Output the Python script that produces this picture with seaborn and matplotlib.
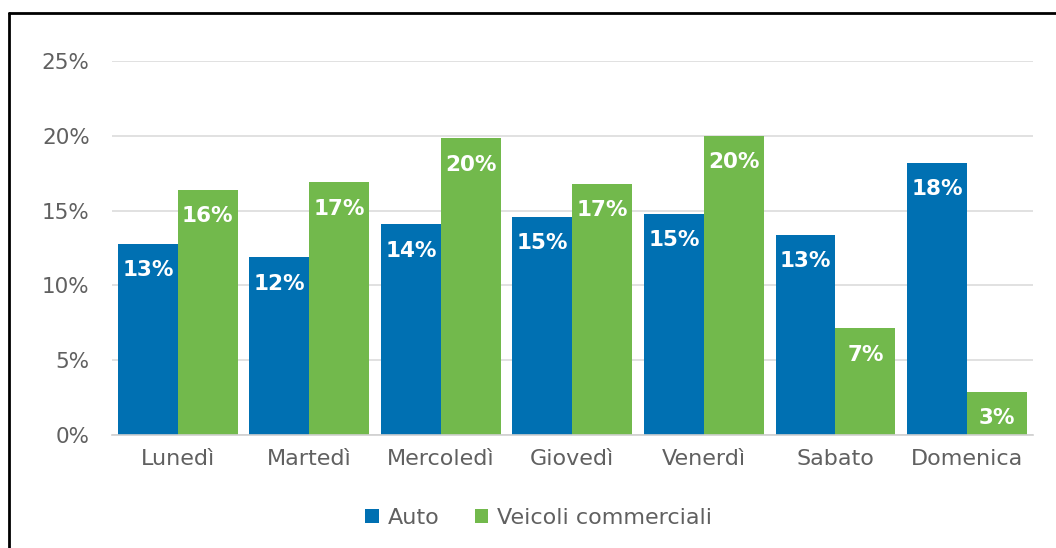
import matplotlib
matplotlib.use("Agg")
import matplotlib.pyplot as plt
import matplotlib.lines as mlines
import seaborn as sns
import pandas as pd

giorni = ["Lunedì", "Martedì", "Mercoledì", "Giovedì", "Venerdì", "Sabato", "Domenica"]
auto = [12.8, 11.9, 14.1, 14.6, 14.8, 13.4, 18.2]
veicoli_commerciali = [16.4, 16.9, 19.85, 16.8, 20.0, 7.15, 2.9]
serie = ["Auto", "Veicoli commerciali"]
colori = ["#0070B2", "#72B94C"]
y_ticks = [0, 5, 10, 15, 20, 25]

df = pd.DataFrame({
    "giorno": giorni * 2,
    "serie": [serie[0]] * len(giorni) + [serie[1]] * len(giorni),
    "valore": auto + veicoli_commerciali,
})

sns.set_theme(style="white")
plt.rcParams["font.family"] = ["DejaVu Sans"]

fig = plt.figure(figsize=(10.56, 5.48), dpi=100)
ax = fig.add_axes([0.106, 0.2062, 0.872, 0.6825])

sns.barplot(data=df, x="giorno", y="valore", hue="serie", order=giorni,
            hue_order=serie, palette=colori, width=0.91, saturation=1,
            errorbar=None, ax=ax, linewidth=0)

for cont in ax.containers:
    for bar in cont:
        h = bar.get_height()
        ax.annotate(f"{h:.0f}%", (bar.get_x() + bar.get_width() / 2, h),
                    xytext=(0, -12), textcoords="offset points",
                    ha="center", va="top", color="white",
                    fontsize=15.5, fontweight="bold")

ax.set_ylim(0, 25)
ax.set_xlim(-0.5, len(giorni) - 0.5)
ax.set_yticks(y_ticks)
ax.set_yticklabels([f"{t}%" for t in y_ticks])
ax.yaxis.grid(True, color="#DCDCDC", linewidth=1.2)
ax.set_axisbelow(True)
for side in ["top", "right", "left"]:
    ax.spines[side].set_visible(False)
ax.spines["bottom"].set_color("#D0D0D0")
ax.spines["bottom"].set_linewidth(1.2)
ax.tick_params(axis="y", length=0, pad=16, labelsize=15.5, labelcolor="#606060")
ax.tick_params(axis="x", length=0, pad=10, labelsize=16, labelcolor="#606060")
ax.set_xlabel("")
ax.set_ylabel("")

handles, labels = ax.get_legend_handles_labels()
ax.legend_.remove()
fig.legend(handles, labels, loc="center", bbox_to_anchor=(0.51, 0.055),
           ncol=2, frameon=False, fontsize=16, labelcolor="#606060",
           handlelength=0.6, handleheight=0.6, handletextpad=0.4,
           columnspacing=1.6)

# frame lines on the top and left edges of the figure
fig.add_artist(mlines.Line2D([9 / 1056, 1.0], [1 - 12.5 / 548] * 2,
                             transform=fig.transFigure, color="black", linewidth=2))
fig.add_artist(mlines.Line2D([9 / 1056] * 2, [0.0, 1 - 12.5 / 548],
                             transform=fig.transFigure, color="black", linewidth=2))

fig.savefig("out.png", dpi=100)
